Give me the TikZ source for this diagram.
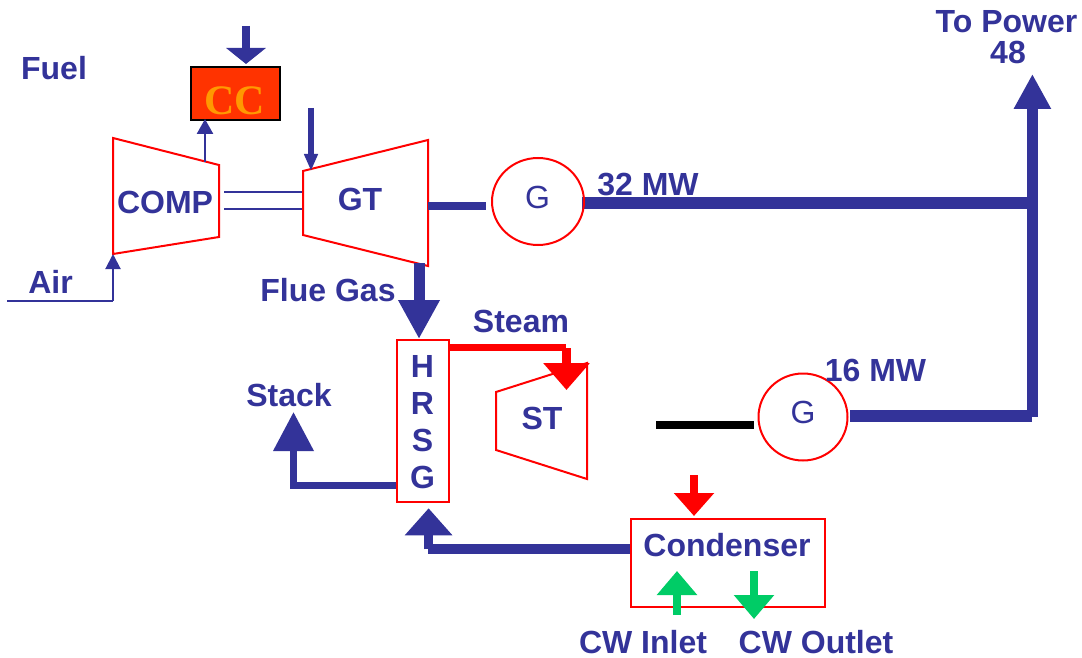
\documentclass[tikz,border=0pt]{standalone}
\usepackage{fontspec}
\setmainfont{Liberation Sans}
\newfontfamily\ccfont{Liberation Serif}
\usetikzlibrary{arrows.meta,shapes.geometric}
\definecolor{flowblue}{HTML}{333399}
\definecolor{unitred}{HTML}{FF0000}
\definecolor{ccfill}{HTML}{FF3300}
\definecolor{ccorange}{HTML}{FF9900}
\definecolor{cwgreen}{HTML}{00CC66}
\tikzset{
  lab/.style={anchor=base,text=flowblue,font=\fontsize{32}{32}\selectfont\bfseries,inner sep=0pt,outer sep=0pt},
  unit/.style={draw=unitred,line width=2pt,fill=none},
  boxunit/.style={unit,rectangle,inner sep=0pt,outer sep=0pt},
  gen/.style={draw=unitred,line width=2pt,ellipse,inner sep=0pt,outer sep=0pt},
  genlab/.style={anchor=base,text=flowblue,font=\fontsize{32}{32}\selectfont,inner sep=0pt},
}
\begin{document}
\begin{tikzpicture}[x=1pt,y=-1pt]
\useasboundingbox (0,0) rectangle (1082,658);
% equipment
\node[draw=black,line width=2pt,fill=ccfill,rectangle,inner sep=0pt,outer sep=0pt,minimum width=89pt,minimum height=53pt] (cc) at (235,94) {};
\node[anchor=base,text=ccorange,inner sep=0pt,font=\fontsize{42}{42}\selectfont\ccfont\bfseries] (cclab) at (235,115) {CC};
\coordinate (c1) at (113,138); \coordinate (c2) at (219,165); \coordinate (c3) at (219,237); \coordinate (c4) at (113,254);
\draw[unit,line join=miter] (c1)--(c2)--(c3)--(c4)--cycle;
\coordinate (g1) at (303,171); \coordinate (g2) at (428,140); \coordinate (g3) at (428,266); \coordinate (g4) at (303,235);
\draw[unit] (g1)--(g2)--(g3)--(g4)--cycle;
\coordinate (s1) at (496,392); \coordinate (s2) at (587,363); \coordinate (s3) at (587,479); \coordinate (s4) at (496,450);
\draw[unit] (s1)--(s2)--(s3)--(s4)--cycle;
\node[boxunit,minimum width=52pt,minimum height=162pt] (hrsg) at (422.5,420.5) {};
\node[boxunit,minimum width=194pt,minimum height=88pt] (cond) at (727.5,562.5) {};
% connector end points
\coordinate (fuelA) at (246,26); \coordinate (fuelB) at (246,64);
\coordinate (fuelC) at (311,108); \coordinate (fuelD) at (311,171);
\coordinate (compout) at (205,162); \coordinate (ccin) at (205,119);
\coordinate (airA) at (7,301); \coordinate (airB) at (113,301); \coordinate (airC) at (113,254);
\coordinate (sh1a) at (224,192); \coordinate (sh1b) at (302,192);
\coordinate (sh2a) at (224,209); \coordinate (sh2b) at (302,209);
\coordinate (gtout) at (428,206); \coordinate (gtend) at (485.7,206);
\coordinate (g1out) at (582,202.7); \coordinate (bus1) at (1030,202.7);
\coordinate (g2out) at (850,415.8); \coordinate (bus2) at (1032.4,415.8);
\coordinate (busup) at (1032.4,416.7); \coordinate (power) at (1032.4,74);
\coordinate (flueA) at (419,263); \coordinate (flueB) at (419,339);
\coordinate (stmA) at (449,347.5); \coordinate (stmB) at (566,347.5);
\coordinate (stmC) at (566.5,348); \coordinate (stmD) at (566.5,390);
\coordinate (stA) at (396,485.5); \coordinate (stB) at (293.5,485.5); \coordinate (stC) at (293.5,412);
\coordinate (cdA) at (630,549.2); \coordinate (cdB) at (428.3,549.2);
\coordinate (cdD) at (428.6,549.4); \coordinate (cdC) at (428.6,508.3);
\coordinate (redA) at (694,475); \coordinate (redB) at (694,516);
\coordinate (inA) at (677,615); \coordinate (inB) at (677,571);
\coordinate (outA) at (754,571); \coordinate (outB) at (754,619);
\coordinate (blkA) at (656,425); \coordinate (blkB) at (754,425);
% connectors
\draw[flowblue,line width=8pt,-{Triangle[length=16pt,width=39pt]}] (fuelA)--(fuelB);
\draw[flowblue,line width=6pt,-{Triangle[length=17pt,width=13pt]}] (fuelC)--(fuelD);
\draw[flowblue,line width=2.5pt,-{Triangle[length=15pt,width=16pt]}] (compout)--(ccin);
\draw[flowblue,line width=2pt] (airA)--(airB);
\draw[flowblue,line width=2pt,-{Triangle[length=15pt,width=15pt]}] (airB)--(airC);
\draw[flowblue,line width=1.5pt] (sh1a)--(sh1b);
\draw[flowblue,line width=1.5pt] (sh2a)--(sh2b);
\draw[flowblue,line width=8pt] (gtout)--(gtend);
\draw[flowblue,line width=12pt] (g1out)--(bus1);
\draw[flowblue,line width=11.7pt] (g2out)--(bus2);
\draw[flowblue,line width=11.6pt,-{Triangle[length=35pt,width=35pt]}] (busup)--(power);
\draw[flowblue,line width=11pt,-{Triangle[length=39pt,width=39pt]}] (flueA)--(flueB);
\draw[unitred,line width=7pt] (stmA)--(stmB);
\draw[unitred,line width=9pt,-{Triangle[length=27pt,width=45pt]}] (stmC)--(stmD);
\draw[flowblue,line width=7pt,line join=miter,-{Triangle[length=39pt,width=39pt]}] (stA)--(stB)--(stC);
\draw[flowblue,line width=9.7pt] (cdA)--(cdB);
\draw[flowblue,line width=9.3pt,-{Triangle[length=27pt,width=46pt]}] (cdD)--(cdC);
\draw[unitred,line width=8pt,-{Triangle[length=23pt,width=39pt]}] (redA)--(redB);
\draw[cwgreen,line width=8pt,-{Triangle[length=24pt,width=39pt]}] (inA)--(inB);
\draw[cwgreen,line width=8pt,-{Triangle[length=24pt,width=39pt]}] (outA)--(outB);
\draw[black,line width=8pt] (blkA)--(blkB);
% generators sit over the pipes
\node[gen,minimum width=92pt,minimum height=87pt] (gen1) at (538,201.5) {};
\node[gen,minimum width=89pt,minimum height=87pt] (gen2) at (803,417) {};
% labels
\node[lab] (lfuel) at (54,80) {Fuel};
\node[lab] (lair) at (50.5,293) {Air};
\node[lab] (lcomp) at (165,213) {COMP};
\node[lab] (lgt) at (360,210) {GT};
\node[lab] (lflue) at (328,301) {Flue Gas};
\node[lab] (lsteam) at (521,332) {Steam};
\node[lab] (lstack) at (289,406) {Stack};
\node[lab] (lst) at (542,429) {ST};
\node[lab] (lh) at (422.5,377) {H};
\node[lab] (lr) at (422.5,414) {R};
\node[lab] (ls) at (422.5,451) {S};
\node[lab] (lg) at (422.5,488) {G};
\node[lab] (l32) at (648,196) {32 MW};
\node[lab] (l16) at (875.5,381) {16 MW};
\node[lab] (lpow) at (1006.5,33) {To Power};
\node[lab] (l48) at (1008,64) {48};
\node[lab] (lcond) at (727,556) {Condenser};
\node[lab] (lin) at (643,653) {CW Inlet};
\node[lab] (lout) at (816,653) {CW Outlet};
\node[genlab] (lg1) at (537.5,208) {G};
\node[genlab] (lg2) at (803,423) {G};
\end{tikzpicture}
\end{document}
